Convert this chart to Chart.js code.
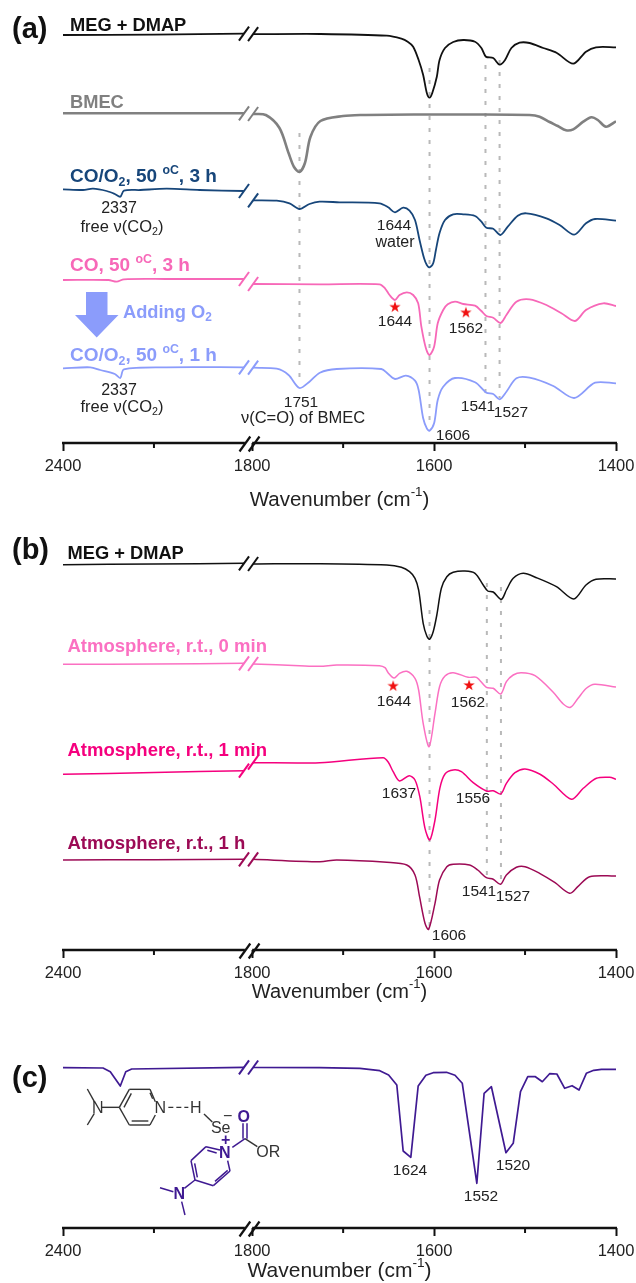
<!DOCTYPE html>
<html>
<head>
<meta charset="utf-8">
<title>FTIR spectra</title>
<script src="https://cdn.jsdelivr.net/npm/chart.js@4/dist/chart.umd.js"></script>
<style>
  html, body { margin: 0; padding: 0; background: #fff; }
  #page { position: relative; width: 636px; height: 1283px; overflow: hidden; }
  canvas { position: absolute; left: 0; }
</style>
</head>
<body>
<div id="page"></div>
<script>
// Axis ticks (cm-1)
const majorTicks = [2400, 1800, 1600, 1400];
const minorTicks = [2300, 1700, 1500];

// Panel (a): x = wavenumber, y = signal height in a.u. above the axis, null = axis break
const wnMegA = [2400, 2300, 2201, 1800, 1799, 1725, 1652, 1636, 1629, 1623, 1617, 1612, 1608, 1605, 1602, 1597, 1594, 1588, 1579, 1568, 1555, 1548, 1543, 1535, 1528, 1522, 1515, 1506, 1495, 1480, 1465, 1447, 1433, 1422, 1400];
const valMegA = [408, 408.3, 409.4, null, 408.8, 409, 407.3, 404.3, 401.3, 396.3, 383, 368, 350, 345.3, 350, 366.3, 383, 395, 401, 403, 401.3, 395, 386.3, 385, 378.3, 383, 395, 400.3, 400, 395, 390, 379.3, 391.3, 395.7, 395.7];

const wnBmec = [2400, 2300, 2201, 1800, 1799, 1785, 1770, 1760, 1754, 1748, 1742, 1736, 1725, 1700, 1680, 1620, 1560, 1495, 1484, 1473, 1464, 1455, 1447, 1436, 1427, 1420, 1411, 1400];
const valBmec = [329.7, 329.7, 329.7, null, 329, 328, 315, 290, 276, 271, 280, 306, 322, 327, 328, 328.5, 328.5, 328, 326.3, 321, 317, 312.7, 313.7, 321.3, 325.7, 323, 316.3, 321.7];

const wnCoO3h = [2400, 2378, 2367, 2352, 2343, 2337, 2333, 2315, 2286, 2250, 2201, 1800, 1799, 1773, 1759, 1748, 1737, 1726, 1704, 1660, 1650.5, 1643, 1634, 1627, 1621, 1616, 1611, 1608, 1605, 1601, 1598, 1594, 1588, 1579, 1568, 1555, 1548, 1542.5, 1535, 1527, 1519, 1508, 1498.5, 1476.5, 1462, 1446, 1433, 1423, 1400];
const valCoO3h = [253.7, 253, 254.3, 252, 249, 246.3, 252.3, 253, 254.3, 253, 252, null, 242.7, 242.3, 239.7, 234, 239, 241.3, 240.7, 239.7, 235.7, 230.7, 235.3, 232.3, 223, 203, 184.7, 178, 175.7, 179.7, 193, 210, 223, 228.7, 228.7, 227, 221.3, 215.3, 214.3, 208, 216.3, 227.3, 229.7, 224.7, 218, 208.3, 219.7, 224, 222.3];

const wnCo3h = [2400, 2350, 2341, 2333, 2286, 2201, 1800, 1799, 1725, 1660, 1654, 1649, 1643, 1638, 1630, 1623, 1617.5, 1614, 1609, 1605, 1600, 1596, 1590, 1585, 1577, 1568, 1555, 1548, 1542.5, 1535, 1527, 1520.5, 1509.5, 1495, 1476.5, 1460, 1445, 1433, 1414, 1400];
const valCo3h = [163, 163, 161.3, 163.7, 164, 164, null, 159, 158.7, 158.7, 154.7, 148, 143, 148, 150.7, 148, 139.7, 116.3, 94.7, 88, 96.3, 119.7, 133, 138.7, 141.3, 139, 137.3, 132, 127, 125.3, 120, 128, 141.3, 143.7, 138, 129.7, 122, 133, 139.7, 137];

const wnCoO1h = [2400, 2370, 2359, 2343, 2337, 2333, 2286, 2201, 1800, 1799, 1773, 1760, 1748, 1737, 1725.6, 1707, 1658, 1650.5, 1643, 1631, 1621, 1617, 1612, 1608, 1605, 1600, 1596, 1590, 1577, 1555, 1542.5, 1535, 1528, 1520.5, 1509.5, 1495, 1469, 1446, 1423, 1400];
const valCoO1h = [74.7, 75.7, 73, 69, 65, 73.7, 75.7, 75.7, null, 75.3, 74.3, 68, 55, 61.3, 70.3, 74, 74, 69, 64, 67.3, 62.3, 53, 24.7, 14.7, 12.3, 19.7, 43, 56.3, 65, 60.7, 50.3, 49, 43.7, 51.3, 64.7, 65.3, 57, 45, 60.3, 59.7];

const guideWnA = [1748, 1605, 1543.5, 1528];
const guideTopA = [310, 375, 378, 383];
const guideBottomA = [65, 15, 50, 45];
const starWnA = [1643, 1565];
const starValA = [136.3, 130.7];

// Panel (b)
const wnMegB = [2400, 2300, 2201, 1800, 1799, 1725, 1652, 1636, 1627, 1621, 1617, 1612, 1608, 1605, 1601, 1597, 1592, 1586, 1579, 1566, 1555, 1546, 1541, 1535, 1526, 1520.5, 1513, 1502, 1487.5, 1465.5, 1446.5, 1433, 1422, 1400];
const valMegB = [385.3, 386, 386.7, null, 386, 386.3, 385, 382.7, 378.3, 371.7, 360, 326.7, 314, 310.7, 318.3, 335, 361.7, 373.3, 377.7, 379, 376.7, 365, 359, 358, 350.7, 360, 371.7, 376.7, 372.3, 363.3, 351, 365, 370.7, 371];

const wnAtm0 = [2400, 2300, 2201, 1800, 1799, 1748, 1725.6, 1707, 1660, 1654, 1650.5, 1644, 1638, 1630, 1621, 1617, 1612, 1605.5, 1599, 1594, 1588, 1579, 1562.6, 1553.4, 1542.5, 1535, 1526.7, 1520.5, 1513, 1504, 1489, 1469, 1458, 1450, 1441.7, 1432.6, 1423.4, 1400];
const valAtm0 = [285.7, 286, 286.7, null, 286, 284.3, 283.7, 285, 284.3, 282.3, 277.3, 272, 276.7, 278.7, 271.7, 260, 226.7, 203.3, 236.7, 263.3, 274, 277.3, 272.7, 272.7, 262.7, 261.7, 256, 268.3, 275, 277.3, 274.3, 257.7, 246, 242.7, 251.7, 261.7, 265.7, 263];

const wnAtm1 = [2400, 2300, 2201, 1800, 1799, 1725.6, 1656, 1650.5, 1645, 1638, 1627.4, 1621, 1615.7, 1610, 1604.7, 1599, 1593.7, 1588, 1579, 1570, 1557, 1542.5, 1535, 1526.7, 1520.5, 1511, 1500, 1484, 1469, 1449, 1436, 1421.6, 1407, 1400];
const valAtm1 = [175.7, 177.5, 179.3, null, 187.3, 187.3, 192.3, 188, 178.3, 169, 174.3, 170, 153.3, 121.7, 110, 130, 161.7, 176, 180, 178.3, 167.3, 159, 159.3, 156, 166.7, 177.3, 181, 176, 166, 150.7, 161.7, 171.7, 172.7, 170.7];

const wnAtm1h = [2400, 2300, 2201, 1800, 1799, 1725.6, 1707, 1652, 1630, 1621, 1616, 1610, 1606, 1599, 1594, 1586, 1579, 1561, 1552, 1542.5, 1535, 1527, 1520.5, 1509.5, 1500, 1484, 1467, 1451, 1442, 1429, 1400];
const valAtm1h = [90, 90.3, 90.7, null, 90.7, 88.3, 90, 87.7, 85, 75, 53.3, 26.7, 20.7, 46.7, 70, 83.3, 85.7, 85, 80, 72.3, 70.7, 65.7, 75, 82.7, 83.3, 76.7, 67.3, 56.7, 63.3, 73.3, 74];

const guideWnB = [1605, 1542, 1526.5];
const guideTopB = [340, 367, 363];
const guideBottomB = [20, 72, 67];
const starWnB = [1645, 1561.5];
const starValB = [264.3, 265];

// Panel (c)
const wnCalc = [2400, 2356, 2348, 2343, 2337, 2331, 2324.5, 2201, 1800, 1799, 1726, 1681.6, 1659.7, 1650, 1641, 1634, 1625.6, 1617.5, 1609, 1601, 1586.4, 1577, 1569, 1553, 1545, 1537, 1521, 1513, 1505, 1497, 1488.6, 1481, 1473, 1465, 1456.4, 1448.3, 1440.6, 1432.6, 1424.5, 1416, 1400];
const valCalc = [160.3, 160, 156.3, 149.7, 142, 156.3, 159, 160.7, null, 160.5, 160.3, 159.7, 157.3, 153, 143, 77, 70.7, 142, 152.7, 155.3, 155.7, 152.7, 144.7, 44.7, 134.7, 141.3, 75.3, 84.7, 136.3, 151.3, 151.3, 146.3, 154.3, 154, 139.7, 142.3, 138, 154.7, 157.7, 158.7, 158.7];

const FONT = '"Liberation Sans", Arial, sans-serif';
const INK = '#222222';
const LIGHT_BLUE = '#8b9cfb';
const PURPLE = '#3f1a92';

// x axis with a break between 2200 and 1800
class BrokenScale extends Chart.LinearScale {
  getPixelForValue(value) {
    const k = this.width / 608;
    if (value >= 2000) return this.left + (2400 - value) * k;
    return this.left + (208 + 1800 - value) * k;
  }
  // edge tick labels may hang over the plot area
  getPadding() {
    return { left: 0, right: 0, top: 0, bottom: 0 };
  }
}
BrokenScale.id = 'brokenX';
BrokenScale.defaults = {};
Chart.register(BrokenScale);

// Text with _sub and ^sup parts, x is the left edge or the centre, y the middle
function richText(ctx, text, x, y, size, color, opts) {
  opts = opts || {};
  const weight = opts.bold ? 'bold ' : '';
  const parts = [];
  const re = /([_^])([\w-]+)/g;
  let last = 0, m;
  while ((m = re.exec(text))) {
    if (m.index > last) parts.push({ t: text.slice(last, m.index), s: 1, dy: 0 });
    parts.push({ t: m[2], s: 0.65, dy: m[1] === '_' ? 0.28 : -0.36 });
    last = m.index + m[0].length;
  }
  if (last < text.length) parts.push({ t: text.slice(last), s: 1, dy: 0 });
  let width = 0;
  parts.forEach(p => {
    ctx.font = weight + (size * p.s) + 'px ' + FONT;
    p.w = ctx.measureText(p.t).width;
    width += p.w;
  });
  let cx = opts.center ? x - width / 2 : x;
  ctx.fillStyle = color;
  ctx.textAlign = 'left';
  ctx.textBaseline = 'middle';
  parts.forEach(p => {
    ctx.font = weight + (size * p.s) + 'px ' + FONT;
    ctx.fillText(p.t, cx, y + p.dy * size);
    cx += p.w;
  });
}

function strokeLine(ctx, x1, y1, x2, y2, color, width) {
  ctx.strokeStyle = color;
  ctx.lineWidth = width;
  ctx.beginPath();
  ctx.moveTo(x1, y1);
  ctx.lineTo(x2, y2);
  ctx.stroke();
}

function breakMark(ctx, x, y, half, color, width) {
  strokeLine(ctx, x - half * 0.72, y + half, x + half * 0.72, y - half, color, width);
}

function makeStar() {
  const c = document.createElement('canvas');
  c.width = 12;
  c.height = 12;
  const g = c.getContext('2d');
  g.fillStyle = '#f01010';
  g.beginPath();
  for (let i = 0; i < 10; i++) {
    const r = i % 2 ? 2.3 : 6;
    const a = -Math.PI / 2 + i * Math.PI / 5;
    g.lineTo(6 + r * Math.cos(a), 6.4 + r * Math.sin(a));
  }
  g.closePath();
  g.fill();
  return c;
}

function toPoints(xs, ys) {
  return xs.map((x, i) => ({ x: x, y: ys[i] }));
}

function drawNotes(ctx, notes) {
  notes.forEach(n => richText(ctx, n[0], n[1], n[2], n[3] || 15.5, INK, { center: true }));
}

function drawPanelA(ctx) {
  richText(ctx, '(a)', 12, 30, 29, '#111', { bold: true });
  richText(ctx, 'MEG + DMAP', 70, 26, 18.3, '#111', { bold: true });
  richText(ctx, 'BMEC', 70, 103, 18.3, '#808080', { bold: true });
  richText(ctx, 'CO/O_2, 50 ^oC, 3 h', 70, 177, 19, '#17467a', { bold: true });
  richText(ctx, 'CO, 50 ^oC, 3 h', 70, 266, 19, '#f768b8', { bold: true });
  richText(ctx, 'Adding O_2', 123, 313, 18.3, LIGHT_BLUE, { bold: true });
  richText(ctx, 'CO/O_2, 50 ^oC, 1 h', 70, 356, 19, LIGHT_BLUE, { bold: true });
  drawNotes(ctx, [
    ['2337', 119, 209, 16], ['free ν(CO_2)', 122, 227, 16.5], ['1644', 394, 226], ['water', 395, 243, 16],
    ['2337', 119, 391, 16], ['free ν(CO_2)', 122, 407, 16.5], ['1751', 301, 403], ['ν(C=O) of BMEC', 303, 418, 16.5],
    ['1644', 395, 322], ['1562', 466, 329], ['1541', 478, 407], ['1527', 511, 413], ['1606', 453, 436]
  ]);
  // O2 arrow
  ctx.fillStyle = LIGHT_BLUE;
  ctx.beginPath();
  [[86, 292], [107.5, 292], [107.5, 315], [118.5, 315], [96.7, 337.5], [75, 315], [86, 315]].forEach(p => ctx.lineTo(p[0], p[1]));
  ctx.closePath();
  ctx.fill();
}

function drawPanelB(ctx) {
  richText(ctx, '(b)', 12, 551, 29, '#111', { bold: true });
  richText(ctx, 'MEG + DMAP', 67.5, 554, 18.3, '#111', { bold: true });
  richText(ctx, 'Atmosphere, r.t., 0 min', 67.5, 647, 18.5, '#fb70c2', { bold: true });
  richText(ctx, 'Atmosphere, r.t., 1 min', 67.5, 751, 18.5, '#f5007e', { bold: true });
  richText(ctx, 'Atmosphere, r.t., 1 h', 67.5, 844, 18.5, '#9c0a55', { bold: true });
  drawNotes(ctx, [
    ['1644', 394, 702], ['1562', 468, 703], ['1637', 399, 794], ['1556', 473, 799],
    ['1541', 479, 892], ['1527', 513, 897], ['1606', 449, 936]
  ]);
}

// Structure sketch, coordinates in 1/3 px from the panel corner
function drawMolecule(ctx) {
  const bond = (x1, y1, x2, y2, color, w) =>
    strokeLine(ctx, x1 / 3, 1040 + y1 / 3, x2 / 3, 1040 + y2 / 3, color, w || 1.4);
  const label = (t, x, y, color, size, bold) =>
    richText(ctx, t, x / 3, 1040 + y / 3, size || 16, color, { center: true, bold: bold });
  const dark = '#333333';
  [[262, 147, 283, 185], [262, 255, 283, 220], [305, 202, 358, 202],
   [358, 202, 388, 148], [388, 148, 450, 148], [450, 148, 466, 185],
   [466, 225, 450, 255], [450, 255, 388, 255], [388, 255, 358, 202],
   [372, 202, 394, 160], [450, 158, 458, 176], [395, 243, 445, 243],
   [612, 222, 637, 246], [735, 296, 772, 320]].forEach(b => bond(b[0], b[1], b[2], b[3], dark));
  ctx.setLineDash([5, 3]);
  bond(505, 202, 565, 202, dark);
  ctx.setLineDash([]);
  label('N', 293, 205, dark);
  label('N', 481, 205, dark);
  label('H', 587, 205, dark);
  label('Se', 662, 266, dark);
  label('−', 683, 230, dark);
  label('OR', 805, 337, dark);
  [[660, 330, 618, 320], [618, 320, 573, 362], [573, 362, 585, 420], [585, 420, 640, 437],
   [640, 437, 690, 393], [690, 393, 683, 362], [622, 331, 650, 339], [584, 370, 592, 412],
   [645, 424, 683, 391], [697, 322, 735, 296], [729, 296, 729, 250], [741, 296, 741, 250],
   [585, 420, 553, 445], [480, 443, 520, 455], [545, 485, 555, 525]].forEach(b => bond(b[0], b[1], b[2], b[3], PURPLE, 1.5));
  label('N', 674, 342, PURPLE, 16, true);
  label('N', 538, 465, PURPLE, 16, true);
  label('O', 731, 232, PURPLE, 16, true);
  label('+', 677, 302, PURPLE, 16, true);
}

function drawPanelC(ctx) {
  richText(ctx, '(c)', 12, 1079, 29, '#111', { bold: true });
  drawNotes(ctx, [['1624', 410, 1171], ['1552', 481, 1197], ['1520', 513, 1166]]);
  drawMolecule(ctx);
}

const panels = [
  {
    id: 'a', top: 0, height: 520, axis: 443, titleY: 500, titleSize: 20.5, draw: drawPanelA,
    guides: [guideWnA, guideTopA, guideBottomA], stars: [starWnA, starValA],
    series: [
      { x: wnMegA, y: valMegA, color: '#111111', width: 1.8 },
      { x: wnBmec, y: valBmec, color: '#808080', width: 2.6 },
      { x: wnCoO3h, y: valCoO3h, color: '#17467a', width: 1.8 },
      { x: wnCo3h, y: valCo3h, color: '#f768b8', width: 1.8 },
      { x: wnCoO1h, y: valCoO1h, color: LIGHT_BLUE, width: 1.8 }
    ]
  },
  {
    id: 'b', top: 520, height: 500, axis: 430, titleY: 992, titleSize: 20, draw: drawPanelB,
    guides: [guideWnB, guideTopB, guideBottomB], stars: [starWnB, starValB],
    series: [
      { x: wnMegB, y: valMegB, color: '#111111', width: 1.5 },
      { x: wnAtm0, y: valAtm0, color: '#fb70c2', width: 1.5 },
      { x: wnAtm1, y: valAtm1, color: '#f5007e', width: 1.5 },
      { x: wnAtm1h, y: valAtm1h, color: '#9c0a55', width: 1.5 }
    ]
  },
  {
    id: 'c', top: 1020, height: 263, axis: 208, titleY: 1271, titleSize: 21, draw: drawPanelC,
    guides: null, stars: null, straight: true,
    series: [{ x: wnCalc, y: valCalc, color: PURPLE, width: 1.7 }]
  }
];

const star = makeStar();

panels.forEach(panel => {
  const canvas = document.createElement('canvas');
  canvas.id = 'panel-' + panel.id;
  canvas.width = 636;
  canvas.height = panel.height;
  canvas.style.top = panel.top + 'px';
  document.getElementById('page').appendChild(canvas);

  const datasets = panel.series.map(s => ({
    data: toPoints(s.x, s.y),
    borderColor: s.color,
    borderWidth: s.width,
    pointRadius: 0,
    spanGaps: false,
    tension: panel.straight ? 0 : 0.3,
    borderJoinStyle: 'round',
    order: 2
  }));
  if (panel.guides) {
    panel.guides[0].forEach((wn, i) => datasets.push({
      data: [{ x: wn, y: panel.guides[1][i] }, { x: wn, y: panel.guides[2][i] }],
      borderColor: '#b9b9b9',
      borderWidth: 2,
      borderDash: [4, 8],
      pointRadius: 0,
      order: 3
    }));
    datasets.push({
      data: toPoints(panel.stars[0], panel.stars[1]),
      showLine: false,
      pointStyle: star,
      pointRadius: 6,
      order: 1
    });
  }

  const decor = {
    id: 'decor',
    afterDraw(chart) {
      const ctx = chart.ctx;
      const xs = chart.scales.x;
      const ys = chart.scales.y;
      const axisY = ys.getPixelForValue(0);
      ctx.save();
      // axis line, minor ticks and break marks
      ctx.lineCap = 'butt';
      strokeLine(ctx, xs.getPixelForValue(2400) - 1, axisY, xs.getPixelForValue(2200), axisY, '#111', 2.5);
      strokeLine(ctx, xs.getPixelForValue(1800), axisY, xs.getPixelForValue(1400) + 1, axisY, '#111', 2.5);
      minorTicks.forEach(v => {
        const px = xs.getPixelForValue(v);
        strokeLine(ctx, px, axisY, px, axisY + 5, '#111', 2);
      });
      breakMark(ctx, xs.getPixelForValue(2200), axisY + 1, 7.5, '#111', 2.2);
      breakMark(ctx, xs.getPixelForValue(1799) + 1, axisY + 1, 7.5, '#111', 2.2);
      panel.series.forEach(s => {
        const gap = s.y.indexOf(null);
        breakMark(ctx, xs.getPixelForValue(s.x[gap - 1]), ys.getPixelForValue(s.y[gap - 1]), 7, s.color, 2);
        breakMark(ctx, xs.getPixelForValue(s.x[gap + 1]), ys.getPixelForValue(s.y[gap + 1]), 7, s.color, 2);
      });
      // texts use page coordinates
      ctx.translate(0, -panel.top);
      richText(ctx, 'Wavenumber (cm^-1)', 339.5, panel.titleY, panel.titleSize, INK, { center: true });
      panel.draw(ctx);
      ctx.restore();
    }
  };

  new Chart(canvas.getContext('2d'), {
    type: 'line',
    data: { datasets: datasets },
    plugins: [decor],
    options: {
      responsive: false,
      animation: false,
      devicePixelRatio: 1,
      layout: { autoPadding: false, padding: { left: 63, right: 20, top: 0, bottom: 0 } },
      plugins: { legend: { display: false }, tooltip: { enabled: false } },
      scales: {
        x: {
          type: 'brokenX',
          position: 'bottom',
          min: 1400,
          max: 2400,
          afterBuildTicks: scale => { scale.ticks = majorTicks.map(v => ({ value: v })); },
          afterFit: scale => { scale.height = panel.height - panel.axis; },
          border: { display: false },
          grid: { drawOnChartArea: false, tickLength: 8, tickWidth: 2, tickColor: '#111' },
          ticks: {
            autoSkip: false,
            maxRotation: 0,
            padding: 6,
            color: INK,
            font: { family: FONT, size: 16.5 },
            callback: v => String(v)
          }
        },
        y: { display: false, min: 0, max: panel.axis }
      }
    }
  });
});
</script>
</body>
</html>
